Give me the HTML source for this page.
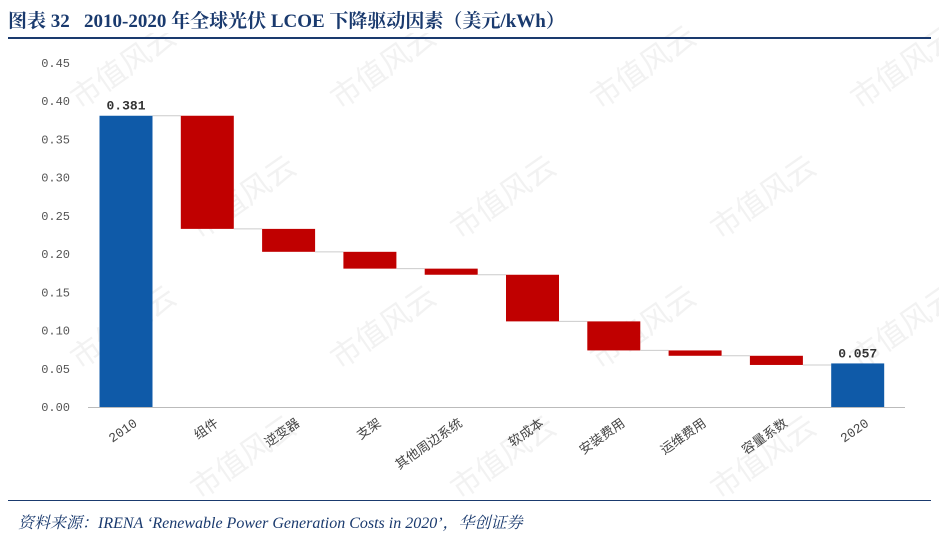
<!DOCTYPE html>
<html><head><meta charset="utf-8"><style>
body{margin:0;background:#fff;width:939px;height:546px;overflow:hidden;position:relative;font-family:"Liberation Serif","Noto Serif CJK SC",serif}
#title{position:absolute;left:8px;top:6px;font-size:19px;font-weight:bold;color:#1a3a6e;white-space:pre;z-index:2;background:#fff}
#tline{position:absolute;left:8px;top:37px;width:923px;height:2px;background:#1a3a6e;z-index:2}
#bline{position:absolute;left:8px;top:500px;width:923px;height:1px;background:#1a3a6e}
#src{position:absolute;left:18px;top:510px;font-size:16px;font-style:italic;color:#1a3a6e}
svg{position:absolute;left:0;top:0}
</style></head><body>
<svg id="chart" width="939" height="546"></svg>
<div id="title">图表 32   2010-2020 年全球光伏 LCOE 下降驱动因素（美元/kWh）</div>
<div id="tline"></div>
<div id="bline"></div>
<div id="src">资料来源：IRENA ‘Renewable Power Generation Costs in 2020’，华创证券</div>
<script>
const categories=["2010","组件","逆变器","支架","其他周边系统","软成本","安装费用","运维费用","容量系数","2020"];
const startValue=0.381;
const drops=[0.148,0.030,0.022,0.008,0.061,0.038,0.007,0.012];
const endValue=0.057;
const yTicks=[0,0.05,0.10,0.15,0.20,0.25,0.30,0.35,0.40,0.45];
const NS="http://www.w3.org/2000/svg";
const svg=document.getElementById('chart');
const y0=407,pxPer=344/0.45;
const yS=v=>y0-v*pxPer;
const xC=i=>126+i*81.3;
const bw=53;
function mk(t,a){const e=document.createElementNS(NS,t);for(const k in a)e.setAttribute(k,a[k]);svg.appendChild(e);return e;}
for(let r=0;r<4;r++)for(let c=0;c<4;c++){const x=80+c*260+(r%2)*120,y=110+r*130;const t=mk('text',{x:x,y:y,'font-size':30,fill:'#f2f2f2',transform:`rotate(-35 ${x} ${y})`,'font-family':'Noto Sans CJK SC,sans-serif'});t.textContent='市值风云';

}
const ax=mk('line',{x1:88,x2:905,y1:y0+0.5,y2:y0+0.5,stroke:'#bbb'});


yTicks.forEach(v=>{const t=mk('text',{x:70,y:yS(v)+4,'text-anchor':'end','font-size':12,fill:'#555','font-family':'Liberation Mono,monospace'});t.textContent=v.toFixed(2);

});
let cur=startValue;
function bar(i,top,bot,color,name){const r=mk('rect',{x:xC(i)-bw/2,y:yS(top),width:bw,height:Math.max(1,yS(bot)-yS(top)),fill:color});

}
function conn(i,v){const l=mk('line',{x1:xC(i)+bw/2,x2:xC(i+1)-bw/2,y1:yS(v),y2:yS(v),stroke:'#ccc'});

}
bar(0,startValue,0,'#0f5aa8','bar-2010');conn(0,startValue);
drops.forEach((d,k)=>{const i=k+1;bar(i,cur,cur-d,'#c00000','bar-drop');cur-=d;conn(i,cur);});
bar(9,endValue,0,'#0f5aa8','bar-2020');
[[0,startValue],[9,endValue]].forEach(([i,v])=>{const t=mk('text',{x:xC(i),y:yS(v)-6,'text-anchor':'middle','font-size':13,'font-weight':'bold',fill:'#333','font-family':'Liberation Mono,monospace'});t.textContent=v.toFixed(3);

});
categories.forEach((c,i)=>{const x=xC(i)+12,y=425;const t=mk('text',{x:x,y:y,'text-anchor':'end','font-size':13,fill:'#444',transform:`rotate(-35 ${x} ${y})`,'font-family':'Liberation Mono,Noto Sans CJK SC,monospace'});t.textContent=c;

});
</script>
</body></html>
